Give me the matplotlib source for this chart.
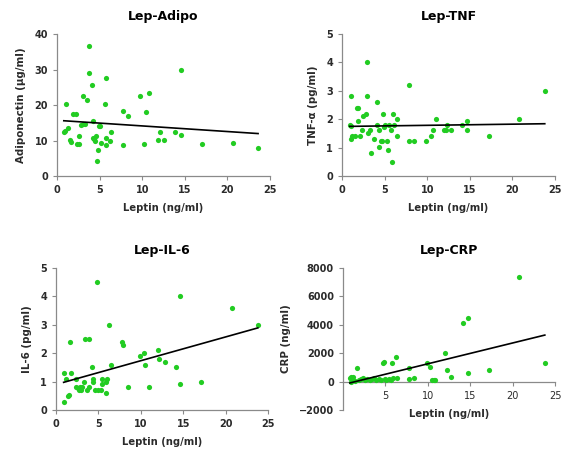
import numpy as np
import matplotlib
matplotlib.use("Agg")
import matplotlib.pyplot as plt

# Lep-Adipo
adipo_lep = [0.9, 0.8, 1.0, 1.3, 1.5, 1.65, 1.9, 2.2, 2.3, 2.55, 2.55, 2.8, 3.0, 3.1, 3.3,
             3.5, 3.7, 3.8, 4.1, 4.2, 4.2, 4.3, 4.5, 4.6, 4.7, 4.8, 4.95, 5.1, 5.2, 5.6,
             5.7, 5.7, 5.8, 6.2, 6.3, 7.7, 7.7, 8.3, 9.7, 10.2, 10.4, 10.8, 11.9, 12.1,
             12.6, 13.9, 14.5, 14.5, 17.0, 20.7, 23.6]
adipo_val = [12.8, 12.5, 20.3, 13.6, 10.1, 9.6, 17.4, 17.4, 8.9, 9.0, 11.3, 14.4, 14.6, 22.6, 14.6,
             21.5, 36.5, 29.0, 25.6, 15.4, 10.7, 10.5, 10.0, 11.3, 4.2, 7.2, 14.2, 14.2, 9.2, 20.3,
             27.6, 10.8, 8.7, 10.0, 12.3, 18.4, 8.6, 17.0, 22.4, 9.0, 17.9, 23.3, 10.1, 12.5,
             10.1, 12.3, 29.9, 11.5, 9.0, 9.2, 7.9]

# Lep-TNF
tnf_lep = [0.9, 1.0, 1.0, 1.1, 1.2, 1.55, 1.8, 1.85, 1.9, 2.15, 2.4, 2.5, 2.8, 2.9, 2.9,
           3.1, 3.3, 3.45, 3.7, 4.05, 4.05, 4.4, 4.4, 4.55, 4.7, 4.85, 4.9, 5.05, 5.3, 5.4,
           5.5, 5.8, 5.9, 6.0, 6.05, 6.4, 6.5, 7.85, 7.9, 8.5, 9.9, 10.4, 10.7, 11.0,
           12.0, 12.2, 12.3, 12.8, 14.1, 14.7, 14.7, 17.2, 20.8, 23.8]
tnf_val = [1.81, 1.76, 1.32, 2.81, 1.41, 1.42, 2.41, 2.41, 1.92, 1.41, 1.61, 2.11, 2.19, 4.0, 2.81,
           1.52, 1.61, 0.8, 1.32, 2.61, 1.81, 1.61, 1.01, 1.22, 1.22, 2.2, 1.73, 1.81, 1.22, 0.9,
           1.81, 1.61, 0.5, 2.2, 1.81, 2.0, 1.41, 3.2, 1.22, 1.22, 1.22, 1.41, 1.61, 2.0,
           1.61, 1.61, 1.81, 1.61, 1.81, 1.61, 1.92, 1.41, 2.0, 3.01]

# Lep-IL-6
il6_lep = [0.9, 1.0, 1.2, 1.4, 1.5, 1.7, 1.8, 2.3, 2.4, 2.6, 2.75, 2.8, 2.9, 3.05, 3.25,
           3.45, 3.6, 3.85, 3.95, 4.3, 4.35, 4.35, 4.55, 4.8, 4.95, 5.25, 5.4, 5.4, 5.85,
           5.85, 6.0, 6.3, 6.45, 7.8, 7.85, 8.45, 9.9, 10.35, 10.55, 11.0, 12.0, 12.2,
           12.8, 14.1, 14.65, 14.65, 17.1, 20.8, 23.8]
il6_val = [0.29, 1.31, 1.09, 0.5, 0.53, 2.4, 1.3, 1.1, 0.8, 0.78, 0.7, 0.8, 0.7, 0.8, 1.0,
           2.5, 0.7, 0.8, 2.5, 1.5, 1.1, 1.0, 0.7, 4.5, 0.7, 0.7, 1.1, 0.9, 0.6,
           1.0, 1.1, 3.0, 1.6, 2.4, 2.3, 0.8, 1.9, 2.0, 1.6, 0.8, 2.1, 1.8,
           1.7, 1.5, 4.0, 0.9, 1.0, 3.6, 3.0]

# Lep-CRP
crp_lep = [0.8, 0.9, 1.0, 1.05, 1.2, 1.4, 1.7, 1.85, 2.15, 2.3, 2.55, 2.85, 3.15, 3.4, 3.7,
           3.9, 4.2, 4.5, 4.7, 4.8, 4.9, 5.1, 5.4, 5.7, 5.8, 5.95, 6.3, 6.4, 7.75, 7.8,
           8.4, 9.85, 10.3, 10.5, 10.7, 10.9, 12.0, 12.25, 12.75, 14.1, 14.7, 14.7, 17.2,
           20.8, 23.8]
crp_val = [235, 350, 0, 165, 330, 70, 990, 120, 190, 280, 120, 190, 120, 190, 280,
           120, 190, 120, 1300, 1360, 190, 120, 190, 120, 1300, 235, 1700, 235, 990, 190,
           235, 1300, 1060, 120, 90, 120, 1980, 820, 350, 4120, 4490, 590, 820,
           7340, 1320]

W, H = 562, 450
fig = plt.figure(figsize=(W / 100, H / 100), dpi=100)

green = "#22cc22"
gray = "#8a8a8a"
txt = "#2b2b2b"


def panel(px, title, ylabel, xs, ys, ylim, yticks, xticks):
    l, r, t, b = px
    ax = fig.add_axes([l / W, 1 - b / H, (r - l) / W, (b - t) / H])
    ax.scatter(xs, ys, s=14, color=green, linewidths=0, zorder=3)
    # least-squares line through the points
    k, c = np.polyfit(xs, ys, 1)
    lx = np.array([min(xs), max(xs)])
    ax.plot(lx, k * lx + c, color="black", lw=1.2, zorder=4)
    ax.set_xlim(0, 25)
    ax.set_ylim(*ylim)
    ax.set_xticks(xticks)
    ax.set_yticks(yticks)
    for s in ["top", "right"]:
        ax.spines[s].set_visible(False)
    for s in ["left", "bottom"]:
        ax.spines[s].set_color(gray)
        ax.spines[s].set_linewidth(0.9)
    ax.tick_params(colors=gray, labelcolor=txt, labelsize=7, length=3, width=0.8)
    for lab in ax.get_xticklabels() + ax.get_yticklabels():
        lab.set_fontweight("semibold")
    ax.set_title(title, fontsize=9, fontweight="bold", pad=10)
    ax.set_xlabel("Leptin (ng/ml)", fontsize=7.2, fontweight="bold", color=txt, labelpad=6)
    ax.set_ylabel(ylabel, fontsize=7.4, fontweight="bold", color=txt, labelpad=6)
    return ax


panel((57, 270, 34, 176), "Lep-Adipo", "Adiponectin (μg/ml)", adipo_lep, adipo_val,
      (0, 40), [0, 10, 20, 30, 40], [0, 5, 10, 15, 20, 25])
panel((342, 555, 34, 176), "Lep-TNF", "TNF-α (pg/ml)", tnf_lep, tnf_val,
      (0, 5), [0, 1, 2, 3, 4, 5], [0, 5, 10, 15, 20, 25])
panel((56, 268, 268, 410), "Lep-IL-6", "IL-6 (pg/ml)", il6_lep, il6_val,
      (0, 5), [0, 1, 2, 3, 4, 5], [0, 5, 10, 15, 20, 25])
ax4 = panel((343, 555, 268, 410), "Lep-CRP", "CRP (ng/ml)", crp_lep, crp_val,
            (-2000, 8000), [-2000, 0, 2000, 4000, 6000, 8000], [5, 10, 15, 20, 25])
ax4.spines["bottom"].set_position(("data", 0))

fig.savefig("out.png", dpi=100, facecolor="white")
